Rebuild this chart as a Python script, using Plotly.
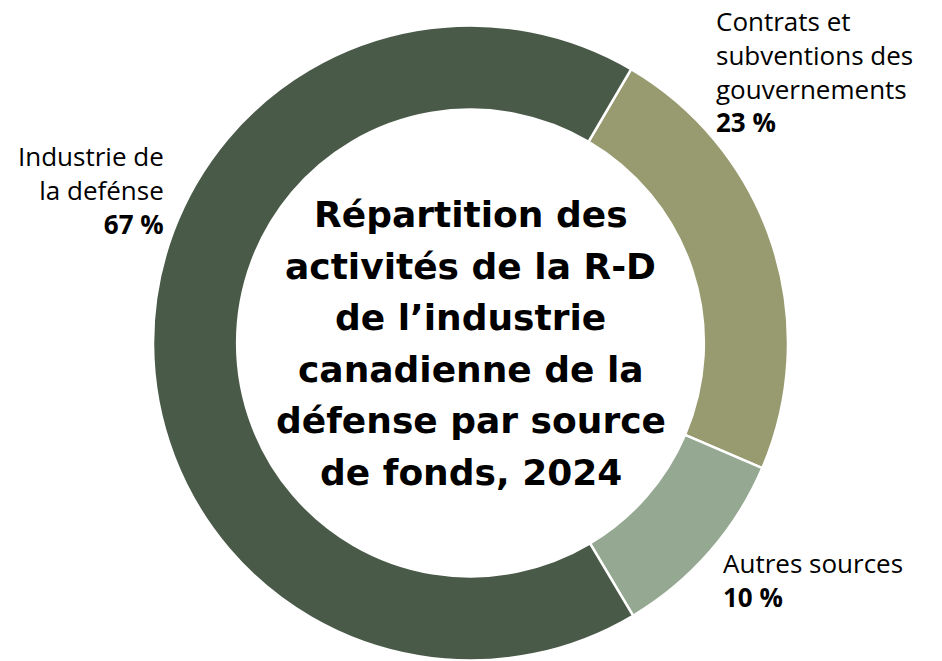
import plotly.graph_objects as go

W, H = 942, 661

labels = ["Contrats et subventions des gouvernements", "Autres sources", "Industrie de la defénse"]
values = [23, 10, 67]
pct_text = ["23 %", "10 %", "67 %"]
colors = ["#979B6F", "#95A892", "#4A5A48"]
title_lines = ["Répartition des", "activités de la R-D", "de l’industrie",
               "canadienne de la", "défense par source", "de fonds, 2024"]

FONT = "Open Sans"
TFONT = "DejaVu Sans"

cx, cy, R = 470.5, 343.0, 317.5

fig = go.Figure(go.Pie(
    labels=labels, values=values, sort=False, direction="clockwise",
    rotation=30.4, hole=0.735, textinfo="none", hoverinfo="label+percent",
    marker=dict(colors=colors, line=dict(color="white", width=2.5)),
    domain=dict(x=[(cx - R) / W, (cx + R) / W], y=[(H - cy - R) / H, (H - cy + R) / H]),
    showlegend=False,
))

def px(x):
    return x / W

def py(y):
    return 1 - y / H

ann = []
for i, line in enumerate(title_lines):
    ann.append(dict(x=px(470.5), y=py(214.5 + 51.6 * i), xref="paper", yref="paper",
                    showarrow=False, text=line, align="center",
                    xanchor="center", yanchor="middle",
                    font=dict(family=TFONT, size=36, color="black", weight="bold")))
ann.append(dict(x=px(714), y=py(1), xref="paper", yref="paper", showarrow=False,
                text="Contrats et<br>subventions des<br>gouvernements<br><b>" + pct_text[0] + "</b>",
                align="left", xanchor="left", yanchor="top",
                font=dict(family=FONT, size=26, color="black")))
ann.append(dict(x=px(721), y=py(543), xref="paper", yref="paper", showarrow=False,
                text="Autres sources<br><b>" + pct_text[1] + "</b>",
                align="left", xanchor="left", yanchor="top",
                font=dict(family=FONT, size=26, color="black")))
ann.append(dict(x=px(166), y=py(136), xref="paper", yref="paper", showarrow=False,
                text="Industrie de<br>la defénse<br><b>" + pct_text[2] + "</b>",
                align="right", xanchor="right", yanchor="top",
                font=dict(family=FONT, size=26, color="black")))

fig.update_layout(width=W, height=H, margin=dict(l=0, r=0, t=0, b=0),
                  paper_bgcolor="white", plot_bgcolor="white", annotations=ann)

fig.write_html("out.html", config={"displayModeBar": False},
               post_script="document.body.style.margin='0';")
